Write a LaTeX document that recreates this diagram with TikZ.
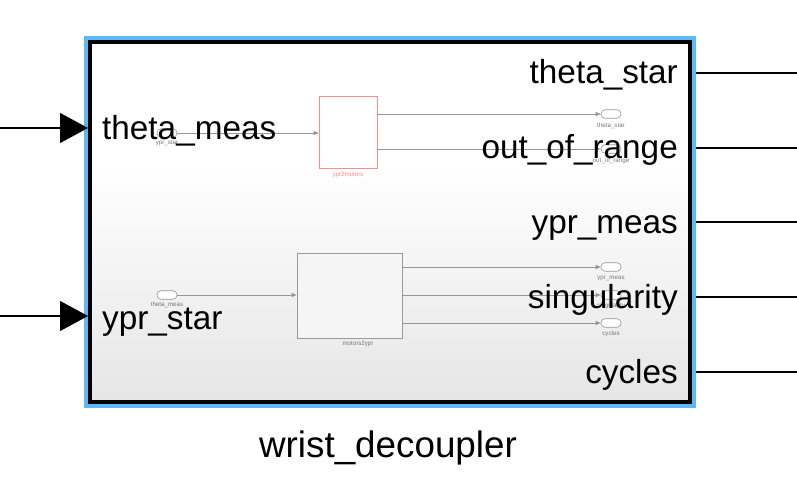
\documentclass[tikz,border=0pt]{standalone}
\usepackage{fontspec}
\setmainfont{Liberation Sans}
\usetikzlibrary{arrows.meta}
\definecolor{slblue}{RGB}{93,185,245}
\definecolor{wirec}{RGB}{150,150,150}
\definecolor{pinkred}{RGB}{255,140,140}
\definecolor{smalltxt}{RGB}{120,120,120}
\pgfdeclareverticalshading{bggrad}{100bp}{color(0bp)=(black!16); color(8bp)=(black!15); color(58bp)=(white); color(100bp)=(white)}
\tikzset{
  wire/.style={draw=wirec, line width=0.8pt, -{Triangle[length=5pt,width=4pt]}},
  oval/.style={draw=wirec, fill=white, rounded corners=4pt, minimum width=20pt, minimum height=8.5pt, inner sep=0pt, line width=0.6pt},
  tiny/.style={text=smalltxt, font=\fontsize{6.2}{7}\selectfont, inner sep=0pt},
  big/.style={font=\fontsize{33.3}{34}\selectfont, inner sep=0pt},
  sig/.style={line width=1.1pt, draw=black},
}
\begin{document}
\begin{tikzpicture}[x=1pt,y=-1pt]
\useasboundingbox (0,0) rectangle (797,481);
% block frame
\shade[shading=bggrad] (92,44) rectangle (688,400);
\draw[slblue, line width=4pt] (86,38) rectangle (694,406);
\draw[black, line width=4pt] (90,42) rectangle (690,402);

% inner subsystem: ypr2motors
\node[draw=pinkred, fill=white, minimum width=58pt, minimum height=72pt, inner sep=0pt, line width=0.8pt] (b1) at (348,132) {};
\node[tiny, text=pinkred] (b1lab) at (348,175) {ypr2motors};
\node[oval] (p1) at (167,133) {};
\node[tiny] (p1lab) at (167,143) {ypr\_star};
\node[oval] (o1) at (611,114) {};
\node[tiny] (o1lab) at (611,126) {theta\_star};
\node[oval] (o2) at (611,149) {};
\node[tiny] (o2lab) at (611,161) {out\_of\_range};
\draw[wire] (p1.east) -- (p1.east -| b1.west);
\draw[wire] (o1.west -| b1.east) -- (o1.west);
\draw[wire] (o2.west -| b1.east) -- (o2.west);

% inner subsystem: motors2ypr
\node[draw=black!40, fill=black!4, minimum width=105pt, minimum height=85pt, inner sep=0pt, line width=0.8pt] (b2) at (349.5,295.5) {};
\node[tiny] (b2lab) at (358,344) {motors2ypr};
\node[oval] (p2) at (167,295) {};
\node[tiny] (p2lab) at (167,305) {theta\_meas};
\node[oval] (o3) at (611,267) {};
\node[tiny] (o3lab) at (611,278) {ypr\_meas};
\node[oval] (o4) at (611,295) {};
\node[tiny] (o4lab) at (611,306) {singularity};
\node[oval] (o5) at (611,323) {};
\node[tiny] (o5lab) at (611,334) {cycles};
\draw[wire] (p2.east) -- (p2.east -| b2.west);
\draw[wire] (o3.west -| b2.east) -- (o3.west);
\draw[wire] (o4.west -| b2.east) -- (o4.west);
\draw[wire] (o5.west -| b2.east) -- (o5.west);

% input ports
\coordinate (srcA) at (0,128);
\coordinate (inA) at (88,128);
\coordinate (srcB) at (0,316);
\coordinate (inB) at (88,316);
\draw[sig, -{Triangle[length=28pt,width=30pt]}] (srcA) -- (inA);
\draw[sig, -{Triangle[length=28pt,width=30pt]}] (srcB) -- (inB);

% output ports
\foreach \n/\y in {A/73,B/148,C/222,D/297,E/372}{
  \coordinate (out\n) at (696,\y);
  \coordinate (end\n) at (797,\y);
  \draw[sig] (out\n) -- (end\n);
}

% port labels
\node[big, anchor=base west] (lA) at (102,140) {theta\_meas};
\node[big, anchor=base west] (lB) at (102,329) {ypr\_star};
\node[big, anchor=base east] (rA) at (678,84) {theta\_star};
\node[big, anchor=base east] (rB) at (678,159) {out\_of\_range};
\node[big, anchor=base east] (rC) at (678,233) {ypr\_meas};
\node[big, anchor=base east] (rD) at (678,308) {singularity};
\node[big, anchor=base east] (rE) at (678,383) {cycles};

% block name
\node[font=\fontsize{36.8}{38}\selectfont, inner sep=0pt, anchor=base] (title) at (388,457) {wrist\_decoupler};
\end{tikzpicture}
\end{document}
